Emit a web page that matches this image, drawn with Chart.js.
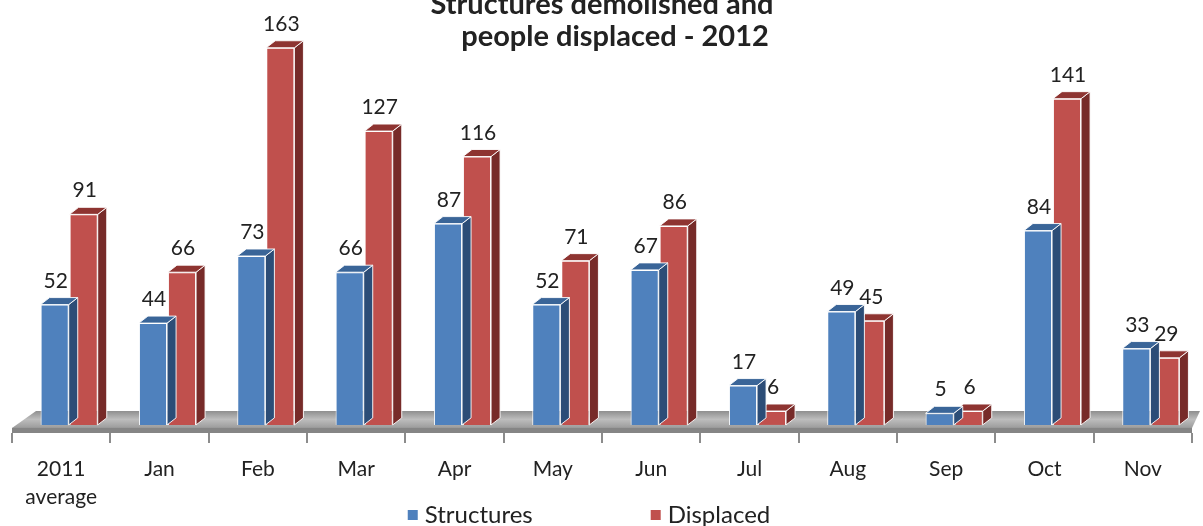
<!DOCTYPE html>
<html>
<head>
<meta charset="utf-8">
<script src="https://cdn.jsdelivr.net/npm/chart.js@4.4.1/dist/chart.umd.min.js"></script>
<style>
  html, body { margin: 0; padding: 0; background: #fff; }
</style>
</head>
<body>
<canvas id="chart" width="1203" height="526"></canvas>
<script>
const categories = [['2011', 'average'], 'Jan', 'Feb', 'Mar', 'Apr', 'May', 'Jun', 'Jul', 'Aug', 'Sep', 'Oct', 'Nov'];
const structures = [52, 44, 73, 66, 87, 52, 67, 17, 49, 5, 84, 33];
const displaced = [91, 66, 163, 127, 116, 71, 86, 6, 45, 6, 141, 29];
const titleLines = ['Structures demolished and', 'people displaced - 2012'];

const FONT = 'Lato, "Open Sans", sans-serif';
const SHIFT = 8;          // bars sit a bit right of the category centre (perspective)
const DX = 9, DY = -7;    // depth of the fake 3d faces

const shades = {
  structures: { front: '#4F81BD', side: '#2C4D77', top: '#3A6598' },
  displaced: { front: '#C0504D', side: '#772B29', top: '#8E3431' }
};

function poly(ctx, pts, fill) {
  ctx.beginPath();
  ctx.moveTo(pts[0][0], pts[0][1]);
  for (let i = 1; i < pts.length; i++) ctx.lineTo(pts[i][0], pts[i][1]);
  ctx.closePath();
  ctx.fillStyle = fill;
  ctx.fill();
  ctx.strokeStyle = 'rgba(255,255,255,0.9)';
  ctx.lineWidth = 1;
  ctx.stroke();
}

const bars3d = {
  id: 'bars3d',
  beforeDatasetsDraw(chart) {
    const { ctx, chartArea } = chart;
    const base = chart.scales.y.getPixelForValue(0);
    const l = chartArea.left, r = chartArea.right, b = chartArea.bottom;
    // floor
    ctx.save();
    const g = ctx.createLinearGradient(0, base - 14, 0, base + 3);
    g.addColorStop(0, '#8e8e8e');
    g.addColorStop(0.5, '#bdbdbd');
    g.addColorStop(1, '#9c9c9c');
    ctx.beginPath();
    ctx.moveTo(l, base + 3);
    ctx.lineTo(l + 24, base - 14);
    ctx.lineTo(r + 8, base - 14);
    ctx.lineTo(r, base + 3);
    ctx.closePath();
    ctx.fillStyle = g;
    ctx.fill();
    ctx.fillStyle = '#858585';
    ctx.fillRect(l, base + 3, r - l, b - base - 3);
    ctx.restore();
    ctx.save();
    ctx.translate(SHIFT, 0);
  },
  afterDatasetDraw(chart, args) {
    const { ctx } = chart;
    const s = args.index === 0 ? shades.structures : shades.displaced;
    args.meta.data.forEach(bar => {
      const left = bar.x - bar.width / 2, right = bar.x + bar.width / 2;
      const top = bar.y, base = bar.base;
      ctx.save();
      poly(ctx, [[right, top], [right + DX, top + DY], [right + DX, base + DY], [right, base]], s.side);
      poly(ctx, [[left, top], [left + DX, top + DY], [right + DX, top + DY], [right, top]], s.top);
      ctx.restore();
    });
  },
  afterDatasetsDraw(chart) {
    const { ctx } = chart;
    ctx.save();
    ctx.font = '21px ' + FONT;
    ctx.fillStyle = '#222';
    ctx.textAlign = 'center';
    ctx.textBaseline = 'alphabetic';
    chart.data.datasets.forEach((ds, i) => {
      chart.getDatasetMeta(i).data.forEach((bar, j) => {
        ctx.fillText(String(ds.data[j]), bar.x + 1, bar.y - 17);
      });
    });
    ctx.restore();
    ctx.restore();
  },
  afterDraw(chart) {
    const { ctx } = chart;
    ctx.save();
    // title, top line partly off the page as in the source picture
    ctx.font = 'bold 29px ' + FONT;
    ctx.fillStyle = '#222';
    ctx.textAlign = 'center';
    ctx.textBaseline = 'alphabetic';
    ctx.fillText(titleLines[0], 602, 14);
    ctx.fillText(titleLines[1], 615, 46);
    // legend
    ctx.font = '24px ' + FONT;
    ctx.textAlign = 'left';
    ctx.textBaseline = 'middle';
    const items = chart.data.datasets.map(d => ({ text: d.label, color: d.backgroundColor }));
    const gap = 7, box = 10, spacing = 118;
    const widths = items.map(it => box + gap + ctx.measureText(it.text).width);
    const total = widths.reduce((a, w) => a + w, 0) + spacing * (items.length - 1);
    let x = 589 - total / 2;
    const y = 515;
    items.forEach((it, i) => {
      ctx.fillStyle = it.color;
      ctx.fillRect(x, y - 5, box, box);
      ctx.fillStyle = '#222';
      ctx.fillText(it.text, x + box + gap, y);
      x += widths[i] + spacing;
    });
    ctx.restore();
  }
};

new Chart(document.getElementById('chart'), {
  type: 'bar',
  data: {
    labels: categories,
    datasets: [
      { label: 'Structures', data: structures, backgroundColor: shades.structures.front,
        borderColor: '#fff', borderWidth: 1, categoryPercentage: 0.59, barPercentage: 0.97, clip: false },
      { label: 'Displaced', data: displaced, backgroundColor: shades.displaced.front,
        borderColor: '#fff', borderWidth: 1, categoryPercentage: 0.59, barPercentage: 0.97, clip: false }
    ]
  },
  options: {
    responsive: false,
    animation: false,
    devicePixelRatio: 1,
    layout: { padding: { top: 20, left: 12, right: 11, bottom: 0 } },
    plugins: {
      legend: { display: false },
      title: { display: false },
      tooltip: { enabled: false }
    },
    scales: {
      x: {
        grid: { display: true, drawOnChartArea: false, drawTicks: true, tickLength: 10, color: '#8c8c8c', lineWidth: 2 },
        border: { display: false },
        ticks: { font: { family: FONT, size: 21, lineHeight: 1.3 }, color: '#222', padding: 13, maxRotation: 0, autoSkip: false },
        afterFit(scale) { scale.height = 93; }
      },
      y: { display: false, min: -3.5, max: 175 }
    }
  },
  plugins: [bars3d]
});
</script>
</body>
</html>
